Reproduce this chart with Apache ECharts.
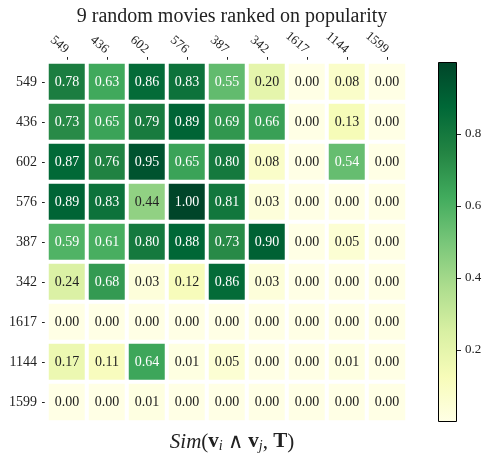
<!DOCTYPE html>
<html><head><meta charset="utf-8">
<script src="https://cdn.jsdelivr.net/npm/echarts@6/dist/echarts.min.js"></script>
<style>html,body{margin:0;padding:0;background:#fff}#c{width:487px;height:454px}</style>
</head><body><div id="c"></div>
<script>
const movies = ['549','436','602','576','387','342','1617','1144','1599'];
const row549  = [0.78,0.63,0.86,0.83,0.55,0.20,0.00,0.08,0.00];
const row436  = [0.73,0.65,0.79,0.89,0.69,0.66,0.00,0.13,0.00];
const row602  = [0.87,0.76,0.95,0.65,0.80,0.08,0.00,0.54,0.00];
const row576  = [0.89,0.83,0.44,1.00,0.81,0.03,0.00,0.00,0.00];
const row387  = [0.59,0.61,0.80,0.88,0.73,0.90,0.00,0.05,0.00];
const row342  = [0.24,0.68,0.03,0.12,0.86,0.03,0.00,0.00,0.00];
const row1617 = [0.00,0.00,0.00,0.00,0.00,0.00,0.00,0.00,0.00];
const row1144 = [0.17,0.11,0.64,0.01,0.05,0.00,0.00,0.01,0.00];
const row1599 = [0.00,0.00,0.01,0.00,0.00,0.00,0.00,0.00,0.00];
const rows = [row549,row436,row602,row576,row387,row342,row1617,row1144,row1599];
const colorbarTicks = [0.2,0.4,0.6,0.8];

const YlGn = ['#ffffe5','#f7fcb9','#d9f0a3','#addd8e','#78c679','#41ab5d','#238443','#006837','#004529'];
const FONT = 'Liberation Serif';

const data = [];
rows.forEach((r, yi) => r.forEach((v, xi) => data.push([xi, yi, v])));

const chart = echarts.init(document.getElementById('c'));
chart.setOption({
  animation: false,
  backgroundColor: '#fff',
  textStyle: { fontFamily: FONT },
  title: [
    { text: '9 random movies ranked on popularity', left: 227, top: 2, textAlign: 'center',
      textStyle: { fontFamily: FONT, fontSize: 20, fontWeight: 'normal', color: '#222' } },
    { text: '{it|Sim}{n|(}{b|v}{s|i}{n| ∧ }{b|v}{s|j}{n|, }{b|T}{n|)}', left: 227, top: 426, textAlign: 'center',
      textStyle: { fontWeight: 'normal', rich: {
        it: { fontFamily: FONT, fontStyle: 'italic', fontWeight: 'normal', fontSize: 21, color: '#222' },
        n: { fontFamily: FONT, fontWeight: 'normal', fontSize: 21, color: '#222' },
        b: { fontFamily: FONT, fontWeight: 'bold', fontSize: 21, color: '#222' },
        s: { fontFamily: FONT, fontStyle: 'italic', fontWeight: 'normal', fontSize: 14, color: '#222', verticalAlign: 'bottom', padding: [8,0,0,0] }
      } } }
  ],
  grid: [
    { left: 47, top: 62, width: 360, height: 360 },
    { left: 438, top: 62, width: 19, height: 360 }
  ],
  xAxis: [
    { type: 'category', data: movies, position: 'top', gridIndex: 0,
      axisLine: { show: false }, splitLine: { show: false },
      axisTick: { show: true, alignWithLabel: true, length: 5, lineStyle: { color: '#222', width: 1 } },
      axisLabel: { rotate: 40, fontFamily: FONT, fontSize: 13, color: '#222', margin: 11 } },
    { type: 'category', data: ['cb'], gridIndex: 1, show: false }
  ],
  yAxis: [
    { type: 'category', data: movies, inverse: true, gridIndex: 0,
      axisLine: { show: false }, splitLine: { show: false },
      axisTick: { show: true, alignWithLabel: true, length: 5, lineStyle: { color: '#222', width: 1 } },
      axisLabel: { fontFamily: FONT, fontSize: 14, color: '#222', margin: 10 } },
    { type: 'value', gridIndex: 1, min: 0, max: 1, position: 'right',
      axisLine: { show: false }, splitLine: { show: false },
      axisTick: { show: true, length: 4, customValues: colorbarTicks, lineStyle: { color: '#222' } },
      axisLabel: { customValues: colorbarTicks, fontFamily: FONT, fontSize: 13, color: '#222', margin: 8,
        formatter: v => v.toFixed(1) } }
  ],
  visualMap: { show: false, min: 0, max: 1, seriesIndex: 0, inRange: { color: YlGn } },
  series: [
    { type: 'heatmap', xAxisIndex: 0, yAxisIndex: 0, data: data,
      itemStyle: { borderColor: '#fff', borderWidth: 4 },
      label: { show: true,
        formatter: p => (p.value[2] > 0.5 ? '{w|' : '{k|') + p.value[2].toFixed(2) + '}',
        rich: { w: { color: '#fff', fontFamily: FONT, fontSize: 14 },
                k: { color: '#222', fontFamily: FONT, fontSize: 14 } } } },
    { type: 'bar', xAxisIndex: 1, yAxisIndex: 1, data: [1], barWidth: '100%', silent: true,
      itemStyle: { borderColor: '#000', borderWidth: 1,
        color: new echarts.graphic.LinearGradient(0, 1, 0, 0,
          YlGn.map((c, i) => ({ offset: i / (YlGn.length - 1), color: c }))) } }
  ]
});
</script></body></html>
